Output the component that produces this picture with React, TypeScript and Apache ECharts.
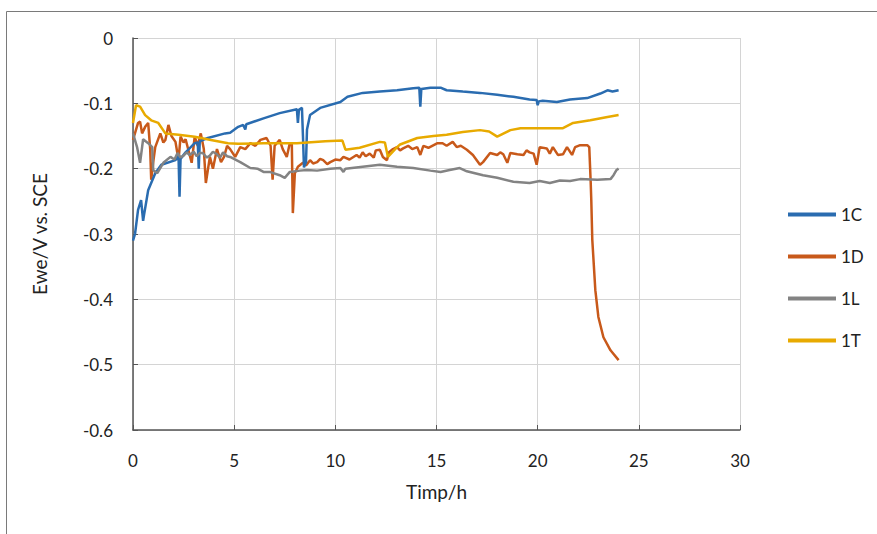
import React, { useEffect, useRef } from "react";
import * as echarts from "echarts";

const seriesNames = ["1C", "1D", "1L", "1T"];
const xTicks = [0, 5, 10, 15, 20, 25, 30];
const yTicks = [0, -0.1, -0.2, -0.3, -0.4, -0.5, -0.6];

const data1C: [number, number][] = [
  [0, -0.31], [0.1, -0.3], [0.25, -0.263], [0.4, -0.248], [0.5, -0.28], [0.55, -0.27], [0.75, -0.233], [1.1, -0.207],
  [1.4, -0.194], [2.1, -0.187], [2.25, -0.18], [2.3, -0.243], [2.35, -0.185], [2.6, -0.175], [3.05, -0.161],
  [3.2, -0.16], [3.25, -0.2], [3.3, -0.158], [3.7, -0.153], [4.55, -0.146], [4.8, -0.145], [5.2, -0.136],
  [5.45, -0.133], [5.55, -0.14], [5.6, -0.132], [6.45, -0.123], [7.25, -0.115], [8.1, -0.109], [8.15, -0.13],
  [8.2, -0.11], [8.35, -0.107], [8.4, -0.15], [8.45, -0.198], [8.55, -0.19], [8.6, -0.14], [8.75, -0.118],
  [9.25, -0.107], [10.25, -0.098], [10.6, -0.09], [11.35, -0.084], [12.2, -0.082], [13.05, -0.08],
  [13.85, -0.077], [14.15, -0.076], [14.2, -0.105], [14.25, -0.078], [14.7, -0.076], [15.2, -0.076],
  [15.5, -0.08], [16.3, -0.082], [17.15, -0.084], [18.0, -0.087], [18.8, -0.09], [19.6, -0.094],
  [19.95, -0.095], [20.0, -0.103], [20.05, -0.097], [20.25, -0.096], [20.95, -0.098], [21.6, -0.094],
  [22.45, -0.092], [23.1, -0.085], [23.45, -0.08], [23.7, -0.082], [24, -0.08],
];

const data1D: [number, number][] = [
  [0, -0.156], [0.25, -0.13], [0.35, -0.128], [0.45, -0.146], [0.6, -0.136], [0.75, -0.13], [0.85, -0.17],
  [0.9, -0.217], [1.0, -0.19], [1.1, -0.167], [1.35, -0.146], [1.5, -0.16], [1.6, -0.156], [1.75, -0.133],
  [1.9, -0.15], [2.1, -0.159], [2.25, -0.187], [2.35, -0.151], [2.5, -0.16], [2.6, -0.155], [2.9, -0.191],
  [3.05, -0.151], [3.2, -0.165], [3.35, -0.146], [3.5, -0.17], [3.6, -0.222], [3.8, -0.182], [3.95, -0.2],
  [4.15, -0.17], [4.35, -0.19], [4.5, -0.182], [4.65, -0.165], [4.8, -0.17], [5.05, -0.182], [5.3, -0.167],
  [5.55, -0.17], [5.8, -0.161], [6.05, -0.165], [6.3, -0.156], [6.6, -0.153], [6.8, -0.165], [6.9, -0.217],
  [7.0, -0.165], [7.25, -0.156], [7.4, -0.17], [7.6, -0.182], [7.75, -0.161], [7.85, -0.163], [7.9, -0.268],
  [8.0, -0.207], [8.15, -0.197], [8.4, -0.191], [8.55, -0.195], [8.75, -0.187], [8.9, -0.192], [9.1, -0.19],
  [9.25, -0.185], [9.4, -0.187], [9.6, -0.193], [9.75, -0.19], [10.0, -0.186], [10.25, -0.187],
  [10.4, -0.182], [10.7, -0.186], [11.05, -0.179], [11.2, -0.183], [11.35, -0.175], [11.5, -0.181],
  [11.7, -0.177], [11.9, -0.183], [12.0, -0.172], [12.2, -0.171], [12.35, -0.182], [12.55, -0.187],
  [12.65, -0.175], [12.85, -0.17], [13.05, -0.167], [13.2, -0.172], [13.35, -0.169], [13.6, -0.165],
  [13.8, -0.17], [14.05, -0.167], [14.2, -0.179], [14.35, -0.165], [14.6, -0.168], [15.05, -0.161],
  [15.3, -0.161], [15.5, -0.165], [15.8, -0.159], [16.0, -0.167], [16.2, -0.165], [16.5, -0.171],
  [16.8, -0.179], [17.15, -0.194], [17.3, -0.19], [17.65, -0.176], [18.0, -0.179], [18.15, -0.175],
  [18.3, -0.178], [18.5, -0.191], [18.65, -0.176], [19.0, -0.178], [19.3, -0.179], [19.45, -0.172],
  [19.6, -0.175], [19.8, -0.177], [19.95, -0.194], [20.1, -0.167], [20.45, -0.169], [20.6, -0.177],
  [20.75, -0.167], [21.0, -0.179], [21.25, -0.178], [21.45, -0.167], [21.7, -0.179], [21.85, -0.167],
  [22.1, -0.164], [22.45, -0.164], [22.55, -0.167], [22.62, -0.22], [22.65, -0.248], [22.7, -0.309],
  [22.85, -0.386], [23.0, -0.427], [23.25, -0.458], [23.6, -0.478], [24.0, -0.493],
];

const data1L: [number, number][] = [
  [0, -0.146], [0.2, -0.167], [0.35, -0.191], [0.5, -0.155], [0.75, -0.161], [0.95, -0.167], [1.0, -0.202],
  [1.2, -0.207], [1.5, -0.191], [1.85, -0.182], [2.05, -0.186], [2.2, -0.176], [2.35, -0.183], [2.5, -0.18],
  [2.65, -0.175], [2.8, -0.179], [3.0, -0.174], [3.15, -0.181], [3.3, -0.176], [3.45, -0.176], [3.65, -0.183],
  [3.8, -0.18], [3.95, -0.174], [4.15, -0.178], [4.3, -0.183], [4.45, -0.175], [4.65, -0.181],
  [4.8, -0.182], [5.3, -0.19], [5.8, -0.199], [6.15, -0.2], [6.45, -0.205], [6.75, -0.205], [7.25, -0.21],
  [7.5, -0.214], [7.75, -0.205], [8.25, -0.203], [8.6, -0.202], [9.1, -0.203], [9.75, -0.2], [10.25, -0.199],
  [10.4, -0.205], [10.5, -0.2], [11.35, -0.197], [12.2, -0.194], [13.05, -0.197], [13.85, -0.199],
  [14.7, -0.203], [15.2, -0.205], [15.65, -0.202], [16.15, -0.199], [16.5, -0.204], [17.3, -0.21],
  [18.0, -0.214], [18.8, -0.22], [19.6, -0.222], [20.1, -0.219], [20.6, -0.222], [21.1, -0.218],
  [21.6, -0.219], [22.1, -0.216], [22.95, -0.217], [23.6, -0.216], [23.75, -0.21], [23.9, -0.202],
  [24.0, -0.2],
];

const data1T: [number, number][] = [
  [0, -0.13], [0.15, -0.103], [0.35, -0.105], [0.6, -0.118], [0.9, -0.126], [1.25, -0.13], [1.6, -0.146],
  [2.25, -0.148], [3.05, -0.151], [3.85, -0.156], [4.7, -0.161], [5.2, -0.162], [6.45, -0.161], [8.1, -0.161],
  [9.5, -0.158], [10.35, -0.157], [10.5, -0.171], [11.2, -0.168], [12.2, -0.159], [12.45, -0.16],
  [12.6, -0.182], [13.05, -0.167], [13.2, -0.163], [14.05, -0.153], [14.85, -0.15], [15.5, -0.148],
  [16.3, -0.144], [17.15, -0.141], [17.6, -0.143], [18.0, -0.151], [18.65, -0.141], [19.15, -0.138],
  [20.0, -0.138], [21.25, -0.138], [21.75, -0.13], [22.6, -0.126], [23.45, -0.121], [24.0, -0.118],
];

const allData = [data1C, data1D, data1L, data1T];
const colors = ["#2A6CB0", "#C8591A", "#838383", "#E8AA00"];

const FONT = "Lato, 'Open Sans', sans-serif";

export default function App() {
  const ref = useRef<HTMLDivElement>(null);
  useEffect(() => {
    if (!ref.current) return;
    const chart = echarts.init(ref.current, undefined, { renderer: "svg" });
    chart.setOption({
      animation: false,
      backgroundColor: "#ffffff",
      textStyle: { fontFamily: FONT },
      graphic: [
        {
          type: "rect",
          shape: { x: 6.5, y: 11.5, width: 1000, height: 1000 },
          style: { fill: "none", stroke: "#7a7a7a", lineWidth: 1 },
          silent: true,
        },
      ],
      grid: { left: 133, right: 137, top: 38, bottom: 104 },
      legend: {
        orient: "vertical",
        left: 783,
        top: 201,
        itemWidth: 48,
        itemHeight: 4,
        itemGap: 25,
        icon: "rect",
        textStyle: { fontFamily: FONT, fontSize: 17, color: "#222", padding: [0, 0, 0, 0] },
        data: seriesNames,
      },
      xAxis: {
        type: "value",
        min: xTicks[0],
        max: xTicks[xTicks.length - 1],
        interval: 5,
        name: "Timp/h",
        nameLocation: "middle",
        nameGap: 52,
        nameTextStyle: { fontFamily: FONT, fontSize: 19, color: "#222" },
        axisLine: { show: true, onZero: false, lineStyle: { color: "#555", width: 1.5 } },
        axisTick: { show: true, inside: true, length: 5, lineStyle: { color: "#555" } },
        axisLabel: { fontFamily: FONT, fontSize: 17, color: "#222", margin: 22 },
        splitLine: { show: true, lineStyle: { color: "#d4d4d4", width: 1 } },
      },
      yAxis: {
        type: "value",
        min: yTicks[yTicks.length - 1],
        max: yTicks[0],
        interval: 0.1,
        name: "Ewe/V vs. SCE",
        nameLocation: "middle",
        nameGap: 84,
        nameTextStyle: { fontFamily: FONT, fontSize: 19, color: "#222" },
        axisLine: { show: true, lineStyle: { color: "#555", width: 1.5 } },
        axisTick: { show: true, inside: true, length: 5, lineStyle: { color: "#555" } },
        axisLabel: {
          fontFamily: FONT,
          fontSize: 17,
          color: "#222",
          margin: 20,
          formatter: (v: number) => (Math.abs(v) < 1e-9 ? "0" : String(Math.round(v * 10) / 10)),
        },
        splitLine: { show: true, lineStyle: { color: "#d4d4d4", width: 1 } },
      },
      series: seriesNames.map((name, i) => ({
        name,
        type: "line",
        data: allData[i],
        showSymbol: false,
        symbol: "none",
        color: colors[i],
        lineStyle: { width: 2.5, color: colors[i] },
        z: i === 0 ? 5 : 3 + i,
      })),
    });
    return () => chart.dispose();
  }, []);
  return (
    <div
      ref={ref}
      style={{ position: "absolute", left: 0, top: 0, width: 877, height: 534 }}
    />
  );
}
